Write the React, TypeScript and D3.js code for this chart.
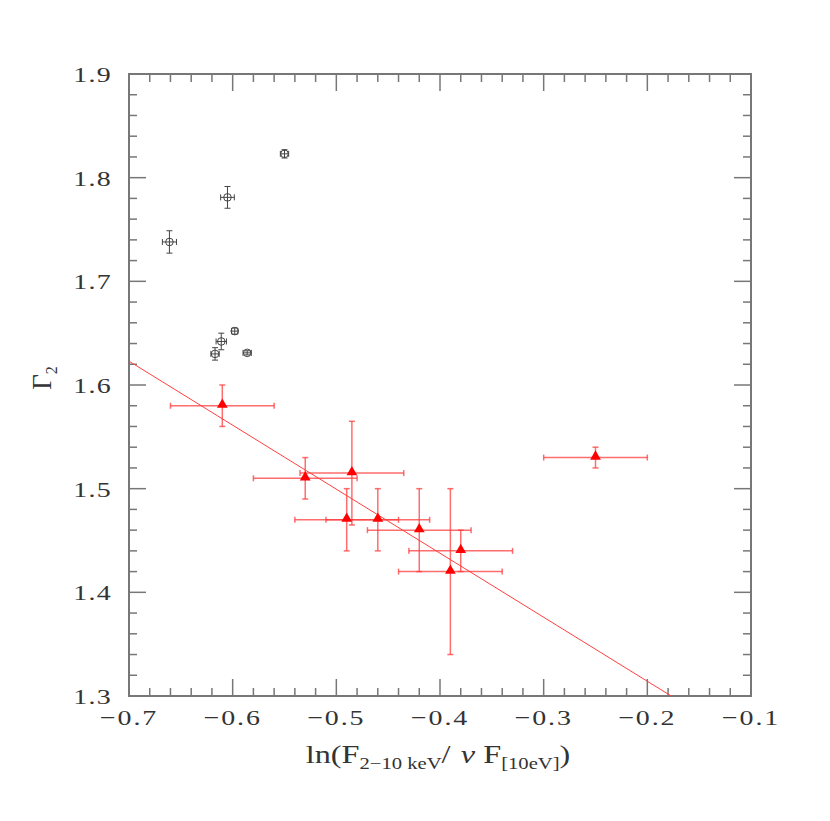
import React from "react";
import * as d3 from "d3";

// Black open-circle points
const blackX = [-0.55, -0.605, -0.661, -0.598, -0.611, -0.617, -0.586];
const blackY = [1.823, 1.781, 1.738, 1.652, 1.642, 1.63, 1.631];
const blackXErr = [0.004, 0.0066, 0.0068, 0.003, 0.005, 0.004, 0.004];
const blackYErr = [0.004, 0.0105, 0.0108, 0.003, 0.008, 0.006, 0.002];

// Red triangle points
const redX = [-0.61, -0.53, -0.485, -0.49, -0.46, -0.42, -0.38, -0.39, -0.25];
const redY = [1.58, 1.51, 1.515, 1.47, 1.47, 1.46, 1.44, 1.42, 1.53];
const redXErr = [0.05, 0.05, 0.05, 0.05, 0.05, 0.05, 0.05, 0.05, 0.05];
const redYErr = [0.02, 0.02, 0.05, 0.03, 0.03, 0.04, 0.02, 0.08, 0.01];

// Fit line endpoints
const fitX = [-0.7, -0.177];
const fitY = [1.623, 1.3];

const xTicks = [-0.7, -0.6, -0.5, -0.4, -0.3, -0.2, -0.1];
const yTicks = [1.3, 1.4, 1.5, 1.6, 1.7, 1.8, 1.9];

export default function App() {
  const W = 830, H = 821;
  const L = 129, R = 751, T = 74, B = 696;
  const x = d3.scaleLinear().domain([-0.7, -0.1]).range([L, R]);
  const y = d3.scaleLinear().domain([1.3, 1.9]).range([B, T]);
  const minorX = d3.range(-0.7, -0.0999, 0.02).filter((v) => !xTicks.some((t) => Math.abs(t - v) < 1e-6));
  const minorY = d3.range(1.3, 1.9001, 0.02).filter((v) => !yTicks.some((t) => Math.abs(t - v) < 1e-6));
  const axisColor = "#777";
  const fmt = (v: number) => (v < 0 ? "\u2212" + Math.abs(v).toFixed(1) : v.toFixed(1));
  const tri = d3.symbol().type(d3.symbolTriangle).size(50)();
  const redErr = "rgba(255,60,60,0.75)";
  const blackErr = "#444";
  const cap = 3;
  const line = d3.line<number>().x((_, i) => x(fitX[i])).y((_, i) => y(fitY[i]));
  const font = "'Liberation Serif', serif";
  const sx = 1.27;

  return (
    <svg width={W} height={H} style={{ position: "absolute", left: 0, top: 0, background: "#fff" }}>
      <defs>
        <clipPath id="plotclip">
          <rect x={L} y={T} width={R - L} height={B - T} />
        </clipPath>
      </defs>
      {/* ticks */}
      <g stroke={axisColor} strokeWidth={1.5}>
        {xTicks.map((t, i) => (
          <g key={"xt" + i}>
            <line x1={x(t)} x2={x(t)} y1={B} y2={B - 17} />
            <line x1={x(t)} x2={x(t)} y1={T} y2={T + 17} />
          </g>
        ))}
        {minorX.map((t, i) => (
          <g key={"xm" + i}>
            <line x1={x(t)} x2={x(t)} y1={B} y2={B - 8} />
            <line x1={x(t)} x2={x(t)} y1={T} y2={T + 8} />
          </g>
        ))}
        {yTicks.map((t, i) => (
          <g key={"yt" + i}>
            <line x1={L} x2={L + 17} y1={y(t)} y2={y(t)} />
            <line x1={R} x2={R - 17} y1={y(t)} y2={y(t)} />
          </g>
        ))}
        {minorY.map((t, i) => (
          <g key={"ym" + i}>
            <line x1={L} x2={L + 8} y1={y(t)} y2={y(t)} />
            <line x1={R} x2={R - 8} y1={y(t)} y2={y(t)} />
          </g>
        ))}
      </g>
      <rect x={L} y={T} width={R - L} height={B - T} fill="none" stroke={axisColor} strokeWidth={2} />

      {/* tick labels */}
      <g fontFamily={font} fontSize={22} fill="#333">
        {xTicks.map((t, i) => (
          <text key={"xl" + i} transform={`translate(${x(t)},725) scale(${sx},1)`} textAnchor="middle" letterSpacing={1.5}>{fmt(t)}</text>
        ))}
        {yTicks.map((t, i) => (
          <text key={"yl" + i} transform={`translate(112,${y(t) + 8}) scale(${sx},1)`} textAnchor="end" letterSpacing={1}>{fmt(t)}</text>
        ))}
      </g>

      {/* axis titles */}
      <text transform={`translate(438,763) scale(1.29,1)`} textAnchor="middle" fontFamily={font} fontSize={25} fill="#333">
        ln(F<tspan fontSize={16} dy={6}>2−10 keV</tspan><tspan dy={-6}>/</tspan>
        <tspan fontStyle="italic" dx={8}>ν</tspan> F<tspan fontSize={16} dy={6}>[10eV]</tspan><tspan dy={-6}>)</tspan>
      </text>
      <text transform={`translate(51,378) rotate(-90)`} textAnchor="middle" fontFamily={font} fontSize={27} fill="#333">
        Γ<tspan fontSize={16} dy={6}>2</tspan>
      </text>

      <g clipPath="url(#plotclip)">
        {/* fit line */}
        <path d={line(fitX) || ""} stroke="#ff4040" strokeWidth={1} fill="none" />

        {/* black points */}
        {blackX.map((vx, i) => {
          const cx = x(vx), cy = y(blackY[i]);
          const x0 = x(vx - blackXErr[i]), x1 = x(vx + blackXErr[i]);
          const y0 = y(blackY[i] - blackYErr[i]), y1 = y(blackY[i] + blackYErr[i]);
          return (
            <g key={"b" + i} stroke={blackErr} strokeWidth={1} fill="none">
              <line x1={x0} x2={x1} y1={cy} y2={cy} />
              <line x1={cx} x2={cx} y1={y0} y2={y1} />
              <line x1={x0} x2={x0} y1={cy - cap} y2={cy + cap} />
              <line x1={x1} x2={x1} y1={cy - cap} y2={cy + cap} />
              <line x1={cx - cap} x2={cx + cap} y1={y0} y2={y0} />
              <line x1={cx - cap} x2={cx + cap} y1={y1} y2={y1} />
              <circle cx={cx} cy={cy} r={3.8} />
            </g>
          );
        })}

        {/* red points */}
        {redX.map((vx, i) => {
          const cx = x(vx), cy = y(redY[i]);
          const x0 = x(vx - redXErr[i]), x1 = x(vx + redXErr[i]);
          const y0 = y(redY[i] - redYErr[i]), y1 = y(redY[i] + redYErr[i]);
          return (
            <g key={"r" + i} stroke={redErr} strokeWidth={1.5} fill="none">
              <line x1={x0} x2={x1} y1={cy} y2={cy} />
              <line x1={cx} x2={cx} y1={y0} y2={y1} />
              <line x1={x0} x2={x0} y1={cy - cap} y2={cy + cap} />
              <line x1={x1} x2={x1} y1={cy - cap} y2={cy + cap} />
              <line x1={cx - cap} x2={cx + cap} y1={y0} y2={y0} />
              <line x1={cx - cap} x2={cx + cap} y1={y1} y2={y1} />
            </g>
          );
        })}
        {redX.map((vx, i) => (
          <path key={"rt" + i} d={tri || ""} transform={`translate(${x(vx)},${y(redY[i]) - 1})`} fill="#ff0000" stroke="none" />
        ))}
      </g>
    </svg>
  );
}
